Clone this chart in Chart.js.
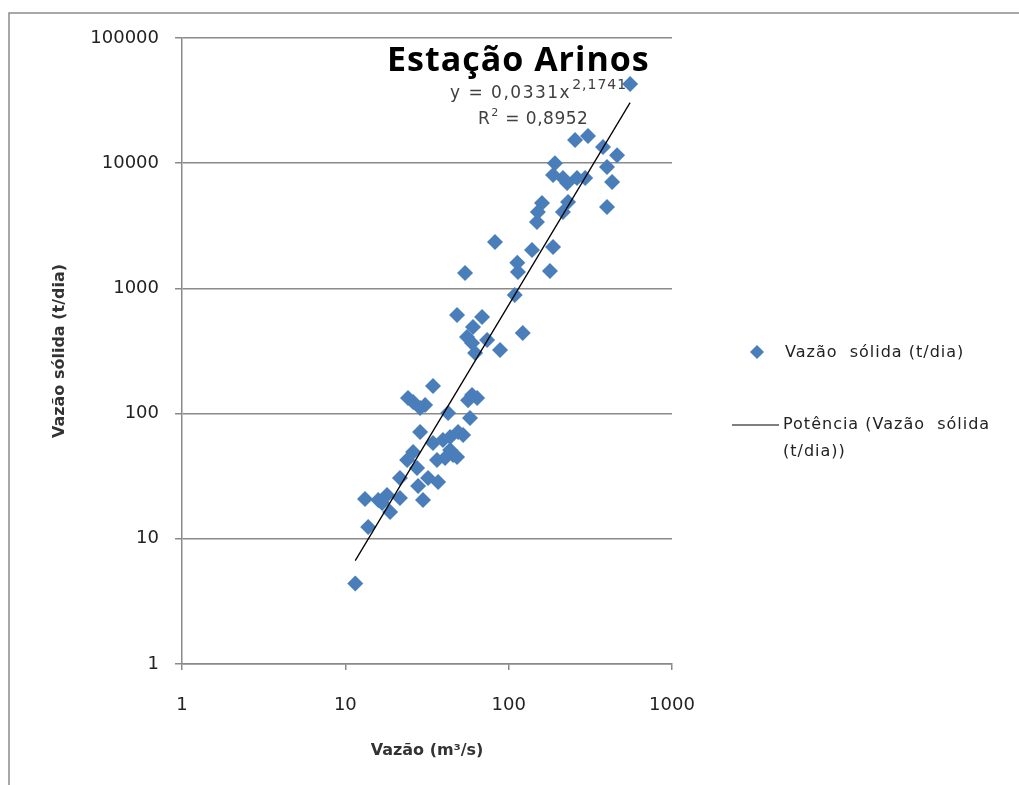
<!DOCTYPE html>
<html>
<head>
<meta charset="utf-8">
<script src="https://cdn.jsdelivr.net/npm/chart.js@4.4.0/dist/chart.umd.min.js"></script>
<style>
  html, body { margin: 0; padding: 0; background: #fff; }
  #wrap { width: 1019px; height: 785px; position: relative; }
</style>
</head>
<body>
<div id="wrap"><canvas id="arinos"></canvas></div>
<script>
// Vazão (m3/s) e vazão sólida (t/dia)
const vazao = [11.5, 13.8, 13.2, 15.9, 16.8, 18.8, 18.0, 21.6, 21.6, 23.9,
  26.0, 27.5, 27.9, 29.9, 32.1, 37.0, 36.4, 45.7, 34.4, 34.4,
  24.2, 26.0, 30.8, 28.7, 42.6, 59.7, 64.1, 56.4, 58.0, 28.7,
  49.0, 52.6, 43.8, 39.6, 40.8, 48.3, 43.8, 554, 255, 306,
  378, 461, 400, 192, 187, 215, 228, 262, 294, 430,
  400, 160, 151, 149, 231, 215, 82.5, 139, 187, 113,
  114, 179, 54.1, 109, 48.3, 68.7, 60.5, 55.6, 59.7, 73.8,
  122, 88.6, 62.3];
const vazaoSolida = [4.4, 12.4, 20.8, 20.4, 19.3, 16.4, 22.4, 21.2, 30.6, 42.6,
  49.4, 36.8, 26.4, 20.4, 30.6, 28.4, 42.6, 46.7, 58.2, 166,
  133, 124, 117, 111, 101, 141, 133, 128, 92.2, 71.3,
  71.3, 67.5, 65.0, 61.5, 44.2, 45.0, 51.2, 42900, 15300, 16500,
  13500, 11600, 9330, 10000, 8050, 7620, 6950, 7620, 7620, 7080,
  4470, 4810, 4080, 3390, 4900, 4080, 2350, 2030, 2140, 1600,
  1350, 1380, 1330, 886, 613, 591, 492, 409, 366, 387,
  440, 322, 305];

// Linha de tendência potência: y = 0,0331 x^2,1741
const trendCoef = 0.0331;
const trendExp = 2.1741;
const trendX = [11.5, 554];

const xTicks = [1, 10, 100, 1000];
const yTicks = [1, 10, 100, 1000, 10000, 100000];

const pontos = vazao.map((x, i) => ({ x: x, y: vazaoSolida[i] }));
const tendencia = trendX.map(x => ({ x: x, y: trendCoef * Math.pow(x, trendExp) }));

const FONT = "'DejaVu Sans', sans-serif";
const GRID = "#8a8a8a";
const BLUE = "#4A7EBB";

// moldura, título, equação e legenda
const extras = {
  id: "extras",
  beforeDraw(chart) {
    const c = chart.ctx;
    c.save();
    c.strokeStyle = "#8c8c8c";
    c.lineWidth = 1.5;
    c.strokeRect(9, 13, 1030, 800);
    c.restore();
  },
  afterDraw(chart) {
    const c = chart.ctx;
    c.save();
    c.fillStyle = "#000";
    c.textBaseline = "alphabetic";
    c.letterSpacing = "1px";
    c.font = "bold 34px 'Open Sans', sans-serif";
    c.fillText("Estação Arinos", 387, 71);

    c.fillStyle = "#404040";
    c.letterSpacing = "1.5px";
    c.font = "17px " + FONT;
    c.fillText("y = 0,0331x", 450, 98);
    const w = c.measureText("y = 0,0331x").width;
    c.letterSpacing = "1px";
    c.font = "14px " + FONT;
    c.fillText("2,1741", 451 + w, 89);
    c.letterSpacing = "0.5px";
    c.font = "17px " + FONT;
    c.fillText("R", 478, 124);
    const wr = c.measureText("R").width;
    c.font = "11px " + FONT;
    c.fillText("2", 479 + wr, 116);
    c.font = "17px " + FONT;
    c.fillText(" = 0,8952", 487 + wr, 124);

    // legenda
    c.fillStyle = BLUE;
    c.beginPath();
    c.moveTo(757, 345); c.lineTo(764, 352); c.lineTo(757, 359); c.lineTo(750, 352);
    c.closePath();
    c.fill();
    c.strokeStyle = "#000";
    c.lineWidth = 1.2;
    c.beginPath();
    c.moveTo(732, 425); c.lineTo(779, 425);
    c.stroke();
    c.fillStyle = "#222";
    c.letterSpacing = "1px";
    c.font = "16px " + FONT;
    c.textBaseline = "middle";
    c.fillText("Vazão  sólida (t/dia)", 785, 353);
    c.fillText("Potência (Vazão  sólida", 783, 425);
    c.fillText("(t/dia))", 783, 452);
    c.restore();
  }
};

new Chart(document.getElementById("arinos"), {
  type: "scatter",
  data: {
    datasets: [
      {
        label: "Potência (Vazão sólida (t/dia))",
        type: "line",
        data: tendencia,
        borderColor: "#000",
        borderWidth: 1.3,
        pointRadius: 0,
        fill: false,
        order: 0,
      },
      {
        label: "Vazão sólida (t/dia)",
        data: pontos,
        pointStyle: "rectRot",
        pointRadius: 8,
        pointBackgroundColor: BLUE,
        pointBorderColor: BLUE,
        pointBorderWidth: 0,
        order: 1,
      },
    ],
  },
  options: {
    responsive: true,
    maintainAspectRatio: false,
    animation: false,
    layout: { padding: { left: 50, top: 38, right: 347, bottom: 25 } },
    plugins: {
      legend: { display: false },
      tooltip: { enabled: false },
    },
    scales: {
      x: {
        type: "logarithmic",
        min: 1,
        max: 1000,
        afterBuildTicks: s => { s.ticks = xTicks.map(v => ({ value: v })); },
        afterFit: s => { s.height = 96; },
        ticks: {
          callback: v => String(v),
          font: { family: FONT, size: 18 },
          color: "#222",
          padding: 25,
          maxRotation: 0,
          autoSkip: false,
        },
        grid: { drawOnChartArea: false, drawTicks: true, tickLength: 6, color: GRID, lineWidth: 1.5 },
        border: { color: GRID, width: 1.5 },
        title: {
          display: true,
          text: "Vazão (m³/s)",
          font: { family: FONT, size: 16, weight: "bold" },
          color: "#333",
          padding: 0,
        },
      },
      y: {
        type: "logarithmic",
        min: 1,
        max: 100000,
        afterBuildTicks: s => { s.ticks = yTicks.map(v => ({ value: v })); },
        afterFit: s => { s.width = 132; },
        ticks: {
          callback: v => String(v),
          font: { family: FONT, size: 18 },
          color: "#222",
          padding: 16,
          autoSkip: false,
        },
        grid: { color: GRID, tickLength: 7, lineWidth: 1.5 },
        border: { color: GRID, width: 1.5 },
        title: {
          display: true,
          text: "Vazão sólida (t/dia)",
          font: { family: FONT, size: 16, weight: "bold" },
          color: "#333",
          padding: 0,
        },
      },
    },
  },
  plugins: [extras],
});
</script>
</body>
</html>
